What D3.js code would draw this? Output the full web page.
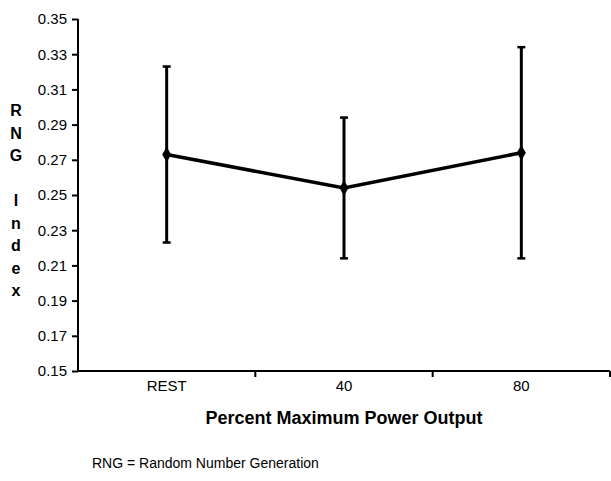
<!DOCTYPE html>
<html>
<head>
<meta charset="utf-8">
<script src="https://cdn.jsdelivr.net/npm/d3@7"></script>
<style>
  body { margin: 0; background: #fff; }
  text { font-family: "Liberation Sans", Arial, sans-serif; fill: #000; }
</style>
</head>
<body>
<div id="chart"></div>
<script>
// data
var categories = ["REST", "40", "80"];
var means = [0.273, 0.254, 0.274];
var errors = [0.050, 0.040, 0.060];
var yTicks = [0.15, 0.17, 0.19, 0.21, 0.23, 0.25, 0.27, 0.29, 0.31, 0.33, 0.35];
var yTitle = ["R", "N", "G", "", "I", "n", "d", "e", "x"];

var width = 611, height = 481;
var plotL = 78, plotR = 610, plotT = 19, plotB = 371;

var svg = d3.select("#chart").append("svg")
    .attr("width", width)
    .attr("height", height);

var x = d3.scaleBand()
    .domain(categories)
    .range([plotL, plotR]);

var y = d3.scaleLinear()
    .domain([0.15, 0.35])
    .range([plotB, plotT]);

// y axis
var yAxis = svg.append("g")
    .attr("transform", "translate(" + plotL + ",0)")
    .call(d3.axisLeft(y).tickValues(yTicks).tickFormat(d3.format(".2f")).tickSize(6).tickPadding(5));
yAxis.select(".domain").attr("stroke-width", 2).attr("d", "M0," + plotT + "V" + plotB);
yAxis.selectAll(".tick line").attr("stroke-width", 2);
yAxis.selectAll(".tick text").attr("font-size", "15px").style("font-family", "'Liberation Sans', Arial, sans-serif");

// x axis, ticks at band edges
var xAxis = svg.append("g")
    .attr("transform", "translate(0," + plotB + ")");
xAxis.append("line")
    .attr("x1", plotL).attr("x2", plotR)
    .attr("stroke", "#000").attr("stroke-width", 2);
var edges = categories.map(function(c){ return x(c) + x.bandwidth(); });
xAxis.selectAll(".edge")
    .data(edges)
    .enter()
    .append("line")
    .attr("x1", function(d){ return d; }).attr("x2", function(d){ return d; })
    .attr("y1", 0).attr("y2", 6)
    .attr("stroke", "#000").attr("stroke-width", 2);
xAxis.selectAll(".lab")
    .data(categories)
    .enter()
    .append("text")
    .attr("x", function(d){ return x(d) + x.bandwidth() / 2; })
    .attr("y", 20)
    .attr("text-anchor", "middle")
    .attr("font-size", "15px")
    .text(function(d){ return d; });

// axis titles
svg.append("text")
    .attr("x", (plotL + plotR) / 2)
    .attr("y", 424)
    .attr("text-anchor", "middle")
    .attr("font-size", "18px")
    .attr("font-weight", "bold")
    .text("Percent Maximum Power Output");

svg.selectAll(".ylet")
    .data(yTitle)
    .enter()
    .append("text")
    .attr("x", 16)
    .attr("y", function(d, i){ return 116 + i * 22.5; })
    .attr("text-anchor", "middle")
    .attr("font-size", "16px")
    .attr("font-weight", "bold")
    .text(function(d){ return d; });

svg.append("text")
    .attr("x", 92)
    .attr("y", 468)
    .attr("font-size", "14px")
    .text("RNG = Random Number Generation");

// error bars
var cx = function(i){ return x(categories[i]) + x.bandwidth() / 2; };
var bars = svg.append("g");
means.forEach(function(m, i){
    bars.append("line")
        .attr("x1", cx(i)).attr("x2", cx(i))
        .attr("y1", y(m + errors[i])).attr("y2", y(m - errors[i]))
        .attr("stroke", "#000").attr("stroke-width", 3);
    [m + errors[i], m - errors[i]].forEach(function(v){
        bars.append("line")
            .attr("x1", cx(i) - 4).attr("x2", cx(i) + 4)
            .attr("y1", y(v)).attr("y2", y(v))
            .attr("stroke", "#000").attr("stroke-width", 2.5);
    });
});

// mean line
var line = d3.line()
    .x(function(d, i){ return cx(i); })
    .y(function(d){ return y(d); });
svg.append("path")
    .datum(means)
    .attr("d", line)
    .attr("fill", "none")
    .attr("stroke", "#000")
    .attr("stroke-width", 3.5);

// diamond markers
svg.selectAll(".pt")
    .data(means)
    .enter()
    .append("path")
    .attr("d", d3.symbol().type(d3.symbolDiamond).size(70))
    .attr("transform", function(d, i){ return "translate(" + cx(i) + "," + y(d) + ")"; })
    .attr("fill", "#000");
</script>
</body>
</html>
